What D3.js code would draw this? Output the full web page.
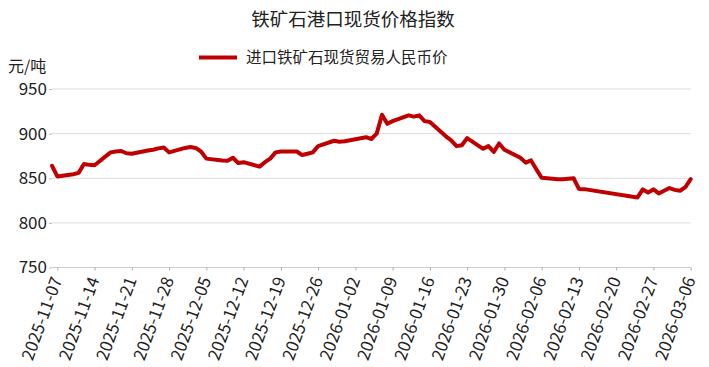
<!DOCTYPE html>
<html>
<head>
<meta charset="utf-8">
<script src="https://cdn.jsdelivr.net/npm/d3@7"></script>
<style>
  html, body { margin: 0; padding: 0; background: #fff; }
  svg text { font-family: "Noto Sans CJK SC", "Noto Sans", sans-serif; fill: #222; }
</style>
</head>
<body>
<svg id="chart" width="709" height="367"></svg>
<script>
// chart text
var title = '铁矿石港口现货价格指数';
var seriesName = '进口铁矿石现货贸易人民币价';
var unitLabel = '元/吨';

// daily observations
var dates = [
  '2025-11-06', '2025-11-07', '2025-11-10', '2025-11-11', '2025-11-12', '2025-11-13', '2025-11-14',
  '2025-11-17', '2025-11-18', '2025-11-19', '2025-11-20', '2025-11-21',
  '2025-11-24', '2025-11-25', '2025-11-26', '2025-11-27', '2025-11-28',
  '2025-12-01', '2025-12-02', '2025-12-03', '2025-12-04', '2025-12-05',
  '2025-12-08', '2025-12-09', '2025-12-10', '2025-12-11', '2025-12-12',
  '2025-12-15', '2025-12-16', '2025-12-17', '2025-12-18', '2025-12-19',
  '2025-12-22', '2025-12-23', '2025-12-24', '2025-12-25', '2025-12-26',
  '2025-12-29', '2025-12-30', '2025-12-31', '2026-01-04',
  '2026-01-05', '2026-01-06', '2026-01-07', '2026-01-08', '2026-01-09',
  '2026-01-12', '2026-01-13', '2026-01-14', '2026-01-15', '2026-01-16',
  '2026-01-19', '2026-01-20', '2026-01-21', '2026-01-22', '2026-01-23',
  '2026-01-26', '2026-01-27', '2026-01-28', '2026-01-29', '2026-01-30',
  '2026-02-02', '2026-02-03', '2026-02-04', '2026-02-05', '2026-02-06',
  '2026-02-09', '2026-02-10', '2026-02-11', '2026-02-12', '2026-02-13', '2026-02-14',
  '2026-02-24', '2026-02-25', '2026-02-26', '2026-02-27', '2026-02-28',
  '2026-03-02', '2026-03-03', '2026-03-04', '2026-03-05', '2026-03-06'
];
var prices = [
  864, 852, 854.5, 856, 866, 865, 864.5,
  879, 880, 880.5, 878, 877.5,
  881, 882, 883.5, 884.5, 879,
  884, 885, 884, 880, 872,
  870, 869.5, 873, 867, 868,
  863, 868, 872, 879, 880,
  880, 876, 877.5, 879, 886,
  892, 891, 891.5, 896,
  894, 900, 921, 911, 914,
  920.5, 919, 920.5, 914, 913,
  897, 892.5, 886, 887, 895,
  883, 886, 879.5, 889, 882,
  873, 867.5, 870, 860, 850.5,
  849, 849, 849.5, 850, 838, 837.8,
  828.5, 837.5, 834, 837.5, 833,
  839, 837, 836, 840, 849
];

// axis ticks
var tickDates = [
  '2025-11-07', '2025-11-14', '2025-11-21', '2025-11-28', '2025-12-05', '2025-12-12',
  '2025-12-19', '2025-12-26', '2026-01-02', '2026-01-09', '2026-01-16', '2026-01-23',
  '2026-01-30', '2026-02-06', '2026-02-13', '2026-02-20', '2026-02-27', '2026-03-06'
];
var yTicks = [750, 800, 850, 900, 950];

var parse = d3.timeParse('%Y-%m-%d');
var data = dates.map(function (d, i) {
  return {date: parse(d), value: prices[i]};
});

var svg = d3.select('#chart');
var plotLeft = 52, plotRight = 690.7, plotTop = 89, plotBottom = 267.5;

var x = d3.scaleTime()
  .domain([parse('2025-11-06'), parse('2026-03-06')])
  .range([plotLeft, plotRight]);
var y = d3.scaleLinear()
  .domain([750, 950])
  .range([plotBottom, plotTop]);

// title
svg.append('text')
  .attr('x', 353)
  .attr('y', 26)
  .attr('text-anchor', 'middle')
  .style('font-size', '18.5px')
  .text(title);

// legend
svg.append('line')
  .attr('x1', 199).attr('x2', 237)
  .attr('y1', 57.5).attr('y2', 57.5)
  .attr('stroke', '#c00000')
  .attr('stroke-width', 4);
svg.append('text')
  .attr('x', 246)
  .attr('y', 57.5)
  .attr('dy', '0.35em')
  .style('font-size', '15.5px')
  .text(seriesName);

// unit
svg.append('text')
  .attr('x', 8)
  .attr('y', 72)
  .style('font-size', '16px')
  .text(unitLabel);

// y grid + labels
var yAxis = svg.append('g')
  .attr('transform', 'translate(' + plotLeft + ',0)')
  .call(d3.axisLeft(y).tickValues(yTicks).tickSize(3).tickPadding(2));
yAxis.select('.domain').remove();
yAxis.selectAll('.tick line').attr('stroke', '#bbb');
yAxis.selectAll('.tick text')
  .style('font-size', '17px')
  .style('font-family', '"Noto Sans CJK SC", sans-serif')
  .attr('fill', '#222');

svg.append('g')
  .selectAll('line')
  .data(yTicks.filter(function (v) { return v > 750; }))
  .enter()
  .append('line')
  .attr('x1', plotLeft).attr('x2', plotRight)
  .attr('y1', function (d) { return y(d); })
  .attr('y2', function (d) { return y(d); })
  .attr('stroke', '#dcdcdc')
  .attr('stroke-width', 1);

// x axis
var xAxis = svg.append('g')
  .attr('transform', 'translate(0,' + plotBottom + ')')
  .call(d3.axisBottom(x).tickValues(tickDates.map(parse)).tickSize(3).tickFormat(d3.timeFormat('%Y-%m-%d')));
xAxis.select('.domain')
  .attr('d', 'M' + plotLeft + ',0H' + plotRight)
  .attr('stroke', '#ccc');
xAxis.selectAll('.tick line').attr('stroke', '#aaa');
xAxis.selectAll('.tick text')
  .style('font-size', '17px')
  .style('font-family', '"Noto Sans CJK SC", sans-serif')
  .attr('fill', '#222')
  .attr('text-anchor', 'end')
  .attr('x', 0)
  .attr('y', 0)
  .attr('dy', '0.35em')
  .attr('transform', 'translate(-1,10) rotate(-70)');

// series line
var line = d3.line()
  .x(function (d) { return x(d.date); })
  .y(function (d) { return y(d.value); });

svg.append('path')
  .datum(data)
  .attr('d', line)
  .attr('fill', 'none')
  .attr('stroke', '#c00000')
  .attr('stroke-width', 4)
  .attr('stroke-linejoin', 'round')
  .attr('stroke-linecap', 'round');
</script>
</body>
</html>
